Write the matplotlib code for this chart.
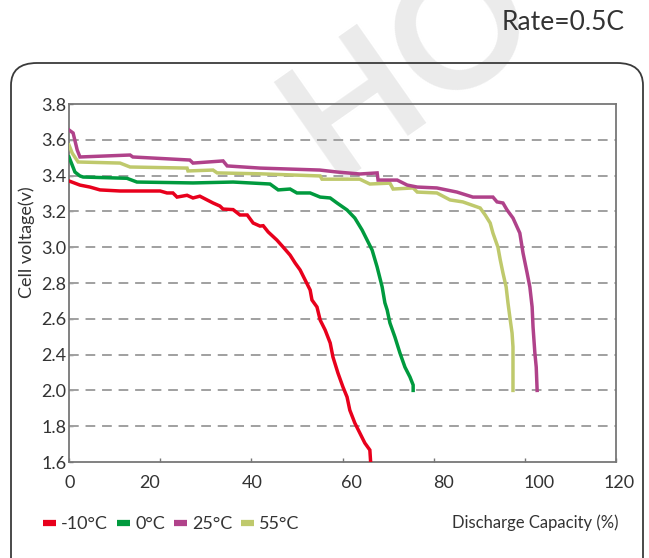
import matplotlib
matplotlib.use("Agg")
import matplotlib.pyplot as plt
import numpy as np
from matplotlib.patches import FancyBboxPatch
from matplotlib.ticker import FixedLocator, FixedFormatter
from matplotlib.lines import Line2D
from matplotlib.transforms import ScaledTranslation

plt.rcParams['font.family'] = ['Lato', 'DejaVu Sans']

# ---------------- data (Discharge capacity %, cell voltage V) ----------------
series_names = ["-10°C", "0°C", "25°C", "55°C"]
series_colors = ["#e8001c", "#009a3e", "#b0428a", "#bfc96c"]

cap_m10 = [0, 2.4, 4.6, 6.8, 11.2, 20.0, 21.5, 22.8, 23.7, 25.9, 27.2, 28.7, 30.3, 31.6,
           33.1, 33.8, 36.0, 37.5, 39.1, 40.4, 41.9, 42.6, 43.7, 45.6, 47.0, 48.5, 49.6,
           50.7, 51.8, 52.9, 53.3, 54.4, 55.1, 56.2, 57.3, 57.9, 59.0, 60.1, 61.0, 61.6,
           62.7, 63.8, 64.9, 66.0, 66.3]
volt_m10 = [3.37, 3.347, 3.336, 3.32, 3.314, 3.314, 3.303, 3.303, 3.28, 3.29, 3.275, 3.285,
            3.264, 3.247, 3.23, 3.213, 3.21, 3.18, 3.18, 3.135, 3.118, 3.12, 3.085, 3.04,
            3.0, 2.956, 2.912, 2.873, 2.817, 2.761, 2.705, 2.666, 2.593, 2.537, 2.465,
            2.374, 2.194, 2.038, 1.963, 1.89, 1.818, 1.762, 1.706, 1.667, 1.55]

cap_0 = [0, 0.7, 1.3, 2.4, 3.1, 12.7, 14.9, 27.2, 36.0, 44.1, 45.9, 48.5, 50.0, 52.9,
         55.1, 57.3, 58.8, 61.0, 62.7, 64.3, 65.4, 66.5, 67.6, 68.7, 69.3, 69.8, 70.4,
         71.5, 72.6, 73.7, 74.8, 75.5, 75.5]
volt_0 = [3.504, 3.459, 3.42, 3.398, 3.392, 3.385, 3.364, 3.359, 3.364, 3.353, 3.32,
          3.325, 3.303, 3.303, 3.28, 3.275, 3.247, 3.208, 3.163, 3.096, 3.04, 2.984,
          2.889, 2.778, 2.689, 2.649, 2.577, 2.498, 2.409, 2.26, 2.15, 2.06, 2.0]

cap_25 = [0, 0.9, 1.8, 2.4, 13.4, 14.0, 26.5, 27.2, 33.8, 34.7, 41.9, 55.0, 58.8, 63.8,
          67.6, 67.8, 72.0, 74.2, 76.4, 80.7, 85.1, 88.6, 93.0, 93.9, 95.2, 96.1, 97.4,
          98.9, 99.6, 100.5, 101.1, 101.6, 101.8, 102.2, 102.5, 102.7]
volt_25 = [3.655, 3.638, 3.543, 3.504, 3.515, 3.504, 3.487, 3.470, 3.482, 3.454, 3.442,
           3.431, 3.420, 3.409, 3.415, 3.375, 3.375, 3.347, 3.336, 3.331, 3.308, 3.280,
           3.280, 3.253, 3.247, 3.208, 3.163, 3.079, 2.968, 2.856, 2.778, 2.666, 2.554,
           2.409, 2.26, 2.0]

cap_55 = [0, 0.7, 2.0, 11.2, 13.4, 25.9, 26.1, 31.6, 32.5, 41.9, 55.1, 55.5, 63.8, 66.0,
          70.4, 71.1, 75.5, 76.4, 80.7, 83.6, 86.4, 90.2, 91.3, 92.4, 93.0, 94.1, 94.6,
          95.2, 95.9, 96.3, 96.8, 97.2, 97.4, 97.4, 97.4]
volt_55 = [3.571, 3.526, 3.476, 3.470, 3.448, 3.442, 3.426, 3.431, 3.415, 3.410, 3.398,
           3.380, 3.380, 3.353, 3.358, 3.325, 3.331, 3.308, 3.303, 3.264, 3.253, 3.219,
           3.18, 3.135, 3.079, 3.0, 2.93, 2.856, 2.778, 2.689, 2.593, 2.52, 2.443,
           2.26, 2.0]

x_tick_values = [0, 20, 40, 60, 80, 100, 120]
x_tick_labels = ["0", "20", "40", "60", "80", "100", "120"]
y_tick_labels = ["1.6", "1.8", "2.0", "2.4", "2.6", "2.8", "3.0", "3.2", "3.4", "3.6", "3.8"]
y_tick_values = [1.6, 1.8, 2.0, 2.4, 2.6, 2.8, 3.0, 3.2, 3.4, 3.6, 3.8]

# ---------------- axis scale: the chart skips 2.2 (2.0 .. 2.4 takes one step) ----
def fwd(v):
    v = np.asarray(v, dtype=float)
    return np.where(v >= 2.4, v, np.where(v >= 2.0, 2.2 + (v - 2.0) * 0.5, v + 0.2))

def inv(p):
    p = np.asarray(p, dtype=float)
    return np.where(p >= 2.4, p, np.where(p >= 2.2, 2.0 + (p - 2.2) * 2.0, p - 0.2))

W, H = 649, 558
fig = plt.figure(figsize=(W / 100, H / 100), dpi=100)

# watermark (behind everything)
fig.text(410 / W, 1 - 66 / H, "HO", fontsize=120, fontweight="bold", color="#ebebeb",
         rotation=35, ha="center", va="center", zorder=-5)

# rounded frame
frame = FancyBboxPatch((11 / W, -30 / H), 632 / W, (H - 63 + 30) / H,
                       boxstyle="round,pad=0,rounding_size=0.04",
                       transform=fig.transFigure, fill=False, edgecolor="#3a3a3a",
                       linewidth=1.3, zorder=1)
fig.patches.append(frame)

ax = fig.add_axes([69 / W, 1 - 462 / H, (616 - 69) / W, (462 - 104) / H])
ax.set_zorder(2)
ax.patch.set_alpha(0)
ax.set_yscale("function", functions=(fwd, inv))
ax.set_ylim(1.6, 3.8)
ax.set_xlim(0, 120)

series = [(cap_m10, volt_m10), (cap_0, volt_0), (cap_25, volt_25), (cap_55, volt_55)]
for i in [3, 2, 1, 0]:
    xs, ys = series[i]
    ax.plot(xs, ys, color=series_colors[i], linewidth=2.5, solid_joinstyle="miter",
            zorder=3 + (3 - i) * 0.1)

ax.yaxis.set_major_locator(FixedLocator(y_tick_values))
ax.yaxis.set_major_formatter(FixedFormatter(y_tick_labels))
ax.yaxis.set_minor_locator(FixedLocator([]))
ax.xaxis.set_major_locator(FixedLocator(x_tick_values))
ax.xaxis.set_major_formatter(FixedFormatter(x_tick_labels))

for v in y_tick_values[1:-1]:
    ax.axhline(v, color="#a0a0a0", linewidth=1.4, linestyle=(0, (5, 3.5)), zorder=2)

for s in ax.spines.values():
    s.set_color("#777777")
    s.set_linewidth(1.3)

ax.tick_params(axis="y", direction="in", length=3, width=1, color="#777777",
               labelsize=13, labelcolor="#333333", pad=2)
ax.tick_params(axis="x", direction="in", length=3, width=1, color="#777777",
               labelsize=13, labelcolor="#333333", pad=9)

# the reference's x labels sit a little off their ticks
label_shift_px = [1, -11, 1, 9, 10, 14, 3]
fig.canvas.draw()
for lab, dx in zip(ax.get_xticklabels(), label_shift_px):
    lab.set_transform(lab.get_transform() + ScaledTranslation(dx / 100, 0, fig.dpi_scale_trans))

fig.text(27 / W, 1 - 242 / H, "Cell voltage(v)", rotation=90, ha="center", va="center",
         fontsize=13, color="#333333")
fig.text(618 / W, 1 - 523 / H, "Discharge Capacity (%)", ha="right", va="center",
         fontsize=12, color="#333333")
fig.text(625 / W, 1 - 23 / H, "Rate=0.5C", ha="right", va="center",
         fontsize=19, color="#333333")

handles = [Line2D([0], [0], color=c, linewidth=4.5, solid_capstyle="butt") for c in series_colors]
fig.legend(handles, series_names, loc="center left", bbox_to_anchor=(36 / W, 1 - 524 / H),
           ncol=4, frameon=False, handlelength=0.7, handletextpad=0.3, columnspacing=0.5,
           borderaxespad=0, fontsize=13, labelcolor="#333333")

fig.savefig("out.png", dpi=100)
